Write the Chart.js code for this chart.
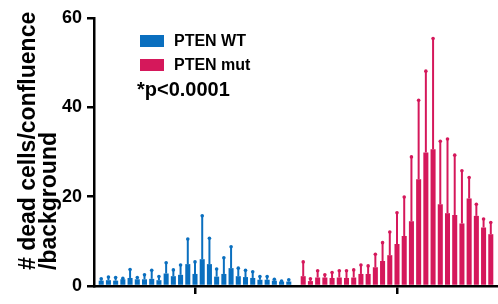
<!DOCTYPE html>
<html>
<head>
<meta charset="utf-8">
<script src="https://cdn.jsdelivr.net/npm/chart.js@4/dist/chart.umd.min.js"></script>
<style>
  html, body { margin: 0; padding: 0; background: #fff; }
  #wrap { width: 498px; height: 304px; position: relative; }
</style>
</head>
<body>
<div id="wrap"><canvas id="deadCellsChart"></canvas></div>
<script>
// values (mean bar + upper end of the error bar)
const wtMean = [1.2, 1.3, 1.2, 1.5, 1.8, 1.5, 1.5, 1.6, 1.3, 2.8, 2.2, 2.5, 4.9, 2.7,
  6.0, 4.9, 2.1, 2.7, 4.0, 2.2, 2.0, 1.8, 1.4, 1.4, 1.2, 1.0, 1.0];
const wtErrTop = [1.6, 2.0, 1.9, 1.7, 3.7, 1.9, 2.5, 3.5, 2.1, 5.2, 3.6, 4.7, 10.5, 5.4,
  15.7, 10.7, 3.8, 6.3, 8.8, 4.0, 3.5, 3.2, 2.1, 2.1, 1.5, 1.1, 1.4];
const mutMean = [2.2, 1.1, 1.9, 1.9, 1.8, 1.9, 1.8, 1.9, 2.7, 2.7, 4.2, 5.6, 6.9, 9.4,
  11.2, 14.5, 23.9, 29.9, 30.6, 18.3, 16.3, 15.9, 14.0, 19.6, 15.7, 13.1, 11.6];
const mutErrTop = [5.4, 1.6, 3.4, 2.5, 3.0, 3.4, 3.4, 3.6, 4.7, 4.5, 7.1, 9.7, 12.1, 16.4,
  19.9, 28.9, 41.6, 48.1, 55.4, 32.4, 32.9, 29.3, 25.8, 24.3, 18.3, 15.0, 14.2];
const yTicks = [0, 20, 40, 60];
const seriesNames = ["PTEN WT", "PTEN mut"];
const pValueText = "*p<0.0001";
const yTitle = ["# dead cells/confluence", "/background"];

const BLUE = "#0a6fbf";
const PINK = "#d5185b";

// slots: 0 = axis, 1..27 WT, 28 gap, 29..55 mut, 56 = end
const wtStart = 1;
const mutStart = wtStart + wtMean.length + 1;
const slotMax = mutStart + mutMean.length;
const groupCentres = [wtStart + (wtMean.length - 1) / 2, mutStart + (mutMean.length - 1) / 2];

const FONT = "'Liberation Sans', Arial, sans-serif";

const errorBars = {
  id: "errorBars",
  afterDatasetsDraw(chart) {
    const ctx = chart.ctx;
    const y = chart.scales.y;
    chart.data.datasets.forEach((ds, di) => {
      const meta = chart.getDatasetMeta(di);
      ctx.save();
      ctx.strokeStyle = ds.backgroundColor;
      ctx.fillStyle = ds.backgroundColor;
      ctx.lineWidth = 2;
      meta.data.forEach((bar, i) => {
        const top = y.getPixelForValue(ds.errTop[i]);
        ctx.beginPath();
        ctx.moveTo(bar.x, bar.y);
        ctx.lineTo(bar.x, top);
        ctx.stroke();
        ctx.beginPath();
        ctx.arc(bar.x, top, 1.8, 0, Math.PI * 2);
        ctx.fill();
      });
      ctx.restore();
    });
  },
};

const annotations = {
  id: "annotations",
  afterDraw(chart) {
    const ctx = chart.ctx;
    ctx.save();
    // legend
    chart.data.datasets.forEach((ds, i) => {
      const top = 35 + i * 24;
      ctx.fillStyle = ds.backgroundColor;
      ctx.fillRect(140, top, 24, 12);
      ctx.fillStyle = "#000";
      ctx.font = "bold 16px " + FONT;
      ctx.textBaseline = "middle";
      ctx.textAlign = "left";
      ctx.fillText(ds.label, 174, top + 6.5);
    });
    ctx.font = "bold 20px " + FONT;
    ctx.textBaseline = "alphabetic";
    ctx.fillText(pValueText, 137, 96);

    // y axis title, two lines starting from the bottom
    ctx.translate(0, 270);
    ctx.rotate(-Math.PI / 2);
    ctx.font = "bold 23px " + FONT;
    ctx.textAlign = "left";
    ctx.fillText(yTitle[0], 0, 35);
    ctx.fillText(yTitle[1], 0, 56);
    ctx.restore();
  },
};

new Chart(document.getElementById("deadCellsChart"), {
  type: "bar",
  data: {
    datasets: [
      {
        label: seriesNames[0],
        data: wtMean.map((v, i) => ({ x: wtStart + i, y: v })),
        errTop: wtErrTop,
        backgroundColor: BLUE,
      },
      {
        label: seriesNames[1],
        data: mutMean.map((v, i) => ({ x: mutStart + i, y: v })),
        errTop: mutErrTop,
        backgroundColor: PINK,
      },
    ],
  },
  options: {
    responsive: true,
    maintainAspectRatio: false,
    animation: false,
    grouped: false,
    barPercentage: 0.7,
    categoryPercentage: 1,
    layout: { padding: { top: 18, left: 0, right: 0, bottom: 0 } },
    plugins: {
      legend: { display: false },
      tooltip: { enabled: false },
    },
    scales: {
      x: {
        type: "linear",
        offset: false,
        min: 0,
        max: slotMax,
        afterBuildTicks: (scale) => {
          scale.ticks = groupCentres.map((v) => ({ value: v }));
        },
        afterFit: (scale) => {
          scale.height = 18;
        },
        ticks: { display: false },
        grid: {
          offset: false,
          drawOnChartArea: false,
          color: "#000",
          lineWidth: 2.5,
          tickLength: 8,
        },
        border: { display: true, color: "#000", width: 2.5 },
      },
      y: {
        min: 0,
        max: 60,
        afterBuildTicks: (scale) => {
          scale.ticks = yTicks.map((v) => ({ value: v }));
        },
        afterFit: (scale) => {
          scale.width = 94;
        },
        ticks: {
          color: "#000",
          padding: 5,
          font: { family: FONT, size: 18, weight: "bold" },
        },
        grid: {
          drawOnChartArea: false,
          color: "#000",
          lineWidth: 2.5,
          tickLength: 7,
        },
        border: { display: true, color: "#000", width: 2.5 },
      },
    },
  },
  plugins: [errorBars, annotations],
});
</script>
</body>
</html>
